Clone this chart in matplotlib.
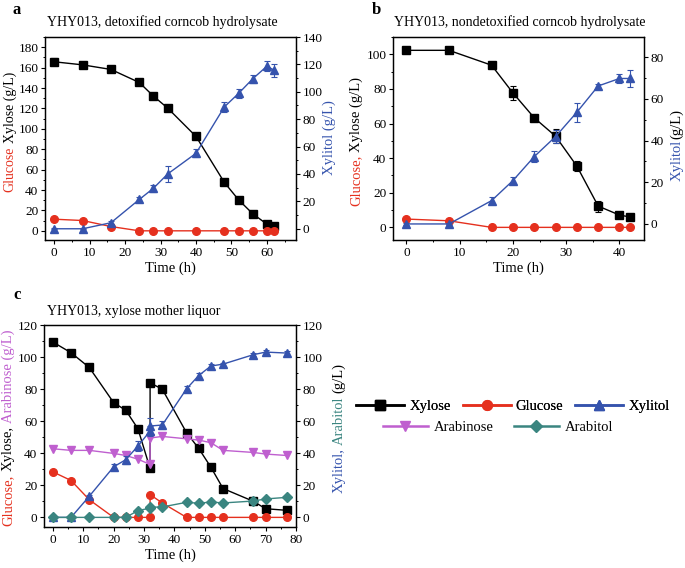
import numpy as np
import matplotlib
matplotlib.use("Agg")
import matplotlib.pyplot as plt
from matplotlib.ticker import MultipleLocator
from matplotlib.lines import Line2D

plt.rcParams["font.family"] = ["Liberation Serif", "DejaVu Serif"]

BLACK = "black"
RED = "#e5301e"
BLUE = "#3553ad"
PURPLE = "#bf5fcf"
TEAL = "#3a8580"

# ---- panel a: detoxified corncob hydrolysate ----
t_a = [0, 8, 16, 24, 28, 32, 40, 48, 52, 56, 60, 62]
xylose_a = [165.7, 162.7, 158.2, 145.4, 132.0, 120.3, 92.5, 47.4, 30.4, 16.7, 6.5, 4.9]
xylose_a_err = [3.4, 2.5, 1.5, 1.5, 1.5, 3.0, 1.5, 1.5, 3.0, 1.5, 1.0, 1.0]
glucose_a = [11.4, 10.1, 4.2, 0, 0, 0, 0, 0, 0, 0, 0, 0]
xylitol_a = [0, 0, 4.4, 21.4, 29.6, 40.0, 55.1, 89.0, 98.8, 109.5, 118.7, 115.8]
xylitol_a_err = [0.5, 0.5, 1.0, 2.0, 2.5, 5.5, 3.0, 3.5, 3.0, 3.0, 3.8, 4.8]

# ---- panel b: nondetoxified corncob hydrolysate ----
t_b = [0, 8, 16, 20, 24, 28, 32, 36, 40, 42]
xylose_b = [102.3, 102.3, 93.7, 77.7, 63.3, 52.7, 35.4, 12.3, 7.1, 6.0]
xylose_b_err = [0.5, 0.5, 0.8, 4.0, 0.8, 4.0, 3.0, 3.2, 0.8, 0.8]
glucose_b = [4.8, 3.8, 0, 0, 0, 0, 0, 0, 0, 0]
xylitol_b = [0, 0, 11.2, 20.8, 32.3, 41.9, 53.6, 66.2, 69.8, 69.8]
xylitol_b_err = [0.3, 0.3, 1.5, 1.5, 2.5, 3.0, 4.5, 1.0, 2.0, 4.0]

# ---- panel c: xylose mother liquor (feed at 32 h) ----
t_c = [0, 6, 12, 20, 24, 28, 32, 32, 36, 44, 48, 52, 56, 66, 70, 77]
xylose_c = [109.4, 102.7, 93.5, 71.6, 66.8, 55.3, 30.5, 83.9, 80.0, 52.8, 43.0, 31.3, 18.0, 10.0, 5.4, 4.4]
glucose_c = [28.4, 23.0, 11.0, 0, 0, 0, 0, 14.2, 9.0, 0, 0, 0, 0, 0, 0, 0]
arabinose_c = [42.8, 41.8, 41.8, 39.9, 38.6, 36.3, 33.0, 49.5, 50.5, 49.0, 48.2, 46.6, 41.8, 40.5, 39.5, 38.6]
xylitol_c = [0, 0, 13.2, 31.5, 36.0, 44.5, 53.9, 57.0, 57.6, 80.2, 88.5, 94.4, 95.6, 101.5, 103.1, 102.5]
xylitol_c_err = [0.3, 0.3, 1.0, 2.0, 2.5, 3.0, 3.0, 5.0, 2.5, 1.5, 1.5, 1.0, 1.0, 1.0, 1.0, 1.0]
arabitol_c = [0, 0, 0, 0, 0, 4.2, 5.8, 6.3, 6.5, 9.4, 8.8, 9.6, 9.0, 10.2, 11.5, 12.5]

W, H = 685, 568
fig = plt.figure(figsize=(W / 100, H / 100), dpi=100)


def box(l, t, r, b):
    return [l / W, 1 - b / H, (r - l) / W, (b - t) / H]


def style(ax):
    ax.xaxis.set_major_locator(MultipleLocator(10))
    ax.xaxis.set_minor_locator(MultipleLocator(5))
    ax.yaxis.set_major_locator(MultipleLocator(20))
    ax.yaxis.set_minor_locator(MultipleLocator(10))
    ax.tick_params(which="major", direction="out", length=3, width=0.8, pad=1.8, labelsize=9.5)
    ax.tick_params(which="minor", direction="out", length=1.6, width=0.7)
    for s in ax.spines.values():
        s.set_linewidth(0.9)


def series(ax, t, y, color, marker, ms=5.5, err=None, z=3):
    ax.errorbar(t, y, yerr=err, color=color, marker=marker, ms=ms, lw=1,
                mfc=color, mec=color, capsize=2, elinewidth=0.8, capthick=0.8, zorder=z)


def stacked_label(parts, x_px, yc_px, fs=10.5):
    # rotated text pieces of different colours, stacked bottom-to-top
    r = fig.canvas.get_renderer()
    gap = fs * 0.3
    items = []
    total = 0
    for s, c, sp in parts:
        t = fig.text(0, 0, s, rotation=90, color=c, fontsize=fs, ha="center", va="bottom")
        h = t.get_window_extent(r).height
        g = gap if sp else 0.5
        items.append((t, h, g))
        total += h + g
    y = yc_px + total / 2
    for t, h, g in items:
        y -= g
        t.set_position((x_px / W, 1 - y / H))
        y -= h


# panel a
ax = fig.add_axes(box(45, 37, 296, 240))
ax2 = ax.twinx()
series(ax, t_a, xylose_a, BLACK, "s", err=xylose_a_err)
series(ax, t_a, glucose_a, RED, "o")
series(ax2, t_a, xylitol_a, BLUE, "^", err=xylitol_a_err)
ax.set_xlim(-2.6, 68.2)
ax.set_ylim(-9, 190)
ax2.set_ylim(-8.2, 140)
style(ax)
style(ax2)
ax.set_xlabel("Time (h)", fontsize=10.5, labelpad=2)
fig.text(162 / W, 1 - 22 / H, "YHY013, detoxified corncob hydrolysate", ha="center", va="center", fontsize=10)
fig.text(17 / W, 1 - 10 / H, "a", fontsize=12, fontweight="bold", ha="center", va="center")

# panel b
bx = fig.add_axes(box(393, 37, 644, 240))
bx2 = bx.twinx()
series(bx, t_b, xylose_b, BLACK, "s", err=xylose_b_err)
series(bx, t_b, glucose_b, RED, "o")
series(bx2, t_b, xylitol_b, BLUE, "^", err=xylitol_b_err)
bx.set_xlim(-2.5, 44.6)
bx.set_ylim(-7.3, 110)
bx2.set_ylim(-7.7, 89.7)
style(bx)
style(bx2)
bx.set_xlabel("Time (h)", fontsize=10.5, labelpad=2)
fig.text(520 / W, 1 - 22 / H, "YHY013, nondetoxified corncob hydrolysate", ha="center", va="center", fontsize=10)
fig.text(376 / W, 1 - 10 / H, "b", fontsize=12, fontweight="bold", ha="center", va="center")

# panel c
cx = fig.add_axes(box(44, 325, 296, 527))
cx2 = cx.twinx()
series(cx, t_c, xylose_c, BLACK, "s")
series(cx, t_c, glucose_c, RED, "o")
series(cx, t_c, arabinose_c, PURPLE, "v")
series(cx2, t_c, xylitol_c, BLUE, "^", err=xylitol_c_err)
series(cx2, t_c, arabitol_c, TEAL, "D", ms=5)
cx.set_xlim(-2.9, 80)
cx.set_ylim(-6, 120)
cx2.set_ylim(-6, 120)
style(cx)
style(cx2)
cx.set_xlabel("Time (h)", fontsize=10.5, labelpad=2)
fig.text(47 / W, 1 - 312 / H, "YHY013, xylose mother liquor", ha="left", va="center", fontsize=10)
fig.text(17 / W, 1 - 295 / H, "c", fontsize=12, fontweight="bold", ha="center", va="center")

# axis labels with mixed colours
stacked_label([("Glucose", RED, False), ("Xylose (g/L)", BLACK, True)], 10, 132, fs=10)
stacked_label([("Xylitol (g/L)", BLUE, False)], 329, 138)
stacked_label([("Glucose,", RED, False), ("Xylose (g/L)", BLACK, True)], 356, 142)
stacked_label([("Xylitol", BLUE, False), ("(g/L)", BLACK, False)], 677, 145)
stacked_label([("Glucose,", RED, False), ("Xylose,", BLACK, True), ("Arabinose (g/L)", PURPLE, True)], 8, 428)
stacked_label([("Xylitol,", BLUE, False), ("Arabitol", TEAL, True), ("(g/L)", BLACK, True)], 339, 428)


# legend
def handle(color, marker, label, ms=7):
    return Line2D([], [], color=color, marker=marker, ms=ms, lw=1.8, mfc=color, mec=color, label=label)


row1 = [handle(BLACK, "s", "Xylose"), handle(RED, "o", "Glucose"), handle(BLUE, "^", "Xylitol")]
row2 = [handle(PURPLE, "v", "Arabinose"), handle(TEAL, "D", "Arabitol", ms=6.5)]
leg1 = fig.legend(handles=row1, ncol=3, loc="center", bbox_to_anchor=(513 / W, 1 - 406 / H),
                  frameon=False, fontsize=10.5, handlelength=3.3, handletextpad=0.35, columnspacing=0.8)
fig.legend(handles=row2, ncol=2, loc="center", bbox_to_anchor=(498 / W, 1 - 427 / H),
           frameon=False, fontsize=10.5, handlelength=3.1, handletextpad=0.4, columnspacing=1.4)
fig.add_artist(leg1)

fig.savefig("out.png", dpi=100)
